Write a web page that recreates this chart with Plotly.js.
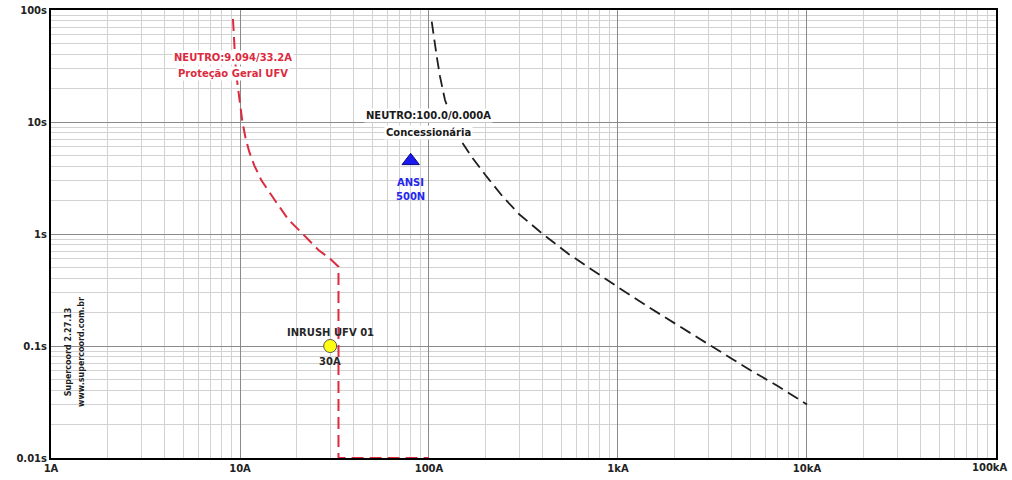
<!DOCTYPE html>
<html>
<head>
<meta charset="utf-8">
<script src="https://cdn.plot.ly/plotly-3.0.1.min.js"></script>
<style>
  html, body { margin: 0; padding: 0; background: #fff; }
  #chart { width: 1012px; height: 480px; }
</style>
</head>
<body>
<div id="chart"></div>
<script>
// Neutral protection curve of the PV plant main breaker (pickup 9.094 A, definite 33.2 A)
const geralI = [9.18, 9.3, 9.45, 9.6, 9.8, 10.0, 10.3, 10.7, 11.2, 11.9, 13, 15.3, 18, 21.5, 26, 30, 33.2, 33.2, 100];
const geralT = [83, 52, 34, 25, 18.5, 13.8, 10, 7.2, 5.4, 4.1, 3.0, 2.0, 1.35, 1.0, 0.72, 0.6, 0.51, 0.01, 0.01];

// Utility (concessionária) neutral curve, pickup 100 A
const concI = [103.4, 105.4, 110, 114.4, 121.5, 143, 168, 202, 246, 300, 400, 550, 750, 1000, 1500, 2000, 3000, 4000, 5000, 7000, 10000];
const concT = [78.6, 62, 38, 25.4, 15.7, 7.4, 4.9, 3.25, 2.15, 1.5, 1.0, 0.66, 0.46, 0.335, 0.215, 0.158, 0.104, 0.077, 0.061, 0.044, 0.030];

// Single-point marks
const ansiI = [80];
const ansiT = [4.5];
const inrushI = [30];
const inrushT = [0.1];

// Axis ticks (the last current label is placed separately so it stays inside the page)
const xTickVals = [1, 10, 100, 1000, 10000, 100000];
const xTickText = ['1A', '10A', '100A', '1kA', '10kA', '100kA'];
const yTickVals = [0.01, 0.1, 1, 10, 100];
const yTickText = ['0.01s', '0.1s', '1s', '10s', '100s'];

function minorVals(d0, d1) {
  const v = [];
  for (let d = d0; d <= d1; d++) {
    for (let k = 2; k <= 9; k++) v.push(k * Math.pow(10, d));
  }
  return v;
}

const FONT = 'DejaVu Sans, Verdana, sans-serif';
const RED = '#dc2a3e';

const traces = [
  {
    x: geralI, y: geralT, mode: 'lines', type: 'scatter',
    line: {color: RED, width: 2, dash: '12px,6px'},
    hoverinfo: 'skip'
  },
  {
    x: concI, y: concT, mode: 'lines', type: 'scatter',
    line: {color: '#1e1e1e', width: 1.8, dash: '12px,6px'},
    hoverinfo: 'skip'
  },
  {
    x: ansiI, y: ansiT, mode: 'markers', type: 'scatter',
    marker: {symbol: 'triangle-up', size: 15, color: '#1a1aee', line: {color: '#0a0a80', width: 1}},
    hoverinfo: 'skip'
  },
  {
    x: inrushI, y: inrushT, mode: 'markers', type: 'scatter',
    marker: {symbol: 'circle', size: 13, color: '#ffff10', line: {color: '#555', width: 1}},
    hoverinfo: 'skip'
  }
];

function label(text, x, y, color, extra) {
  return Object.assign({
    text: '<b>' + text + '</b>', x: Math.log10(x), y: Math.log10(y),
    xref: 'x', yref: 'y', showarrow: false,
    xanchor: 'center', yanchor: 'middle',
    font: {family: FONT, size: 10, color: color},
    bgcolor: '#ffffff', borderpad: 1
  }, extra || {});
}

const lastX = xTickText.length - 1;
const shownXText = xTickText.map((t, i) => (i === lastX ? '' : t));

const annotations = [
  label('NEUTRO:9.094/33.2A', 9.2, 37.3, RED),
  label('Proteção Geral UFV', 9.2, 27.0, RED),
  label('NEUTRO:100.0/0.000A', 100, 11.4, '#1a1a1a'),
  label('Concessionária', 100, 8.1, '#1a1a1a'),
  label('ANSI', ansiI[0], 2.91, '#2626ee', {bgcolor: 'rgba(0,0,0,0)'}),
  label('500N', ansiI[0], 2.14, '#2626ee', {bgcolor: 'rgba(0,0,0,0)'}),
  label('INRUSH UFV 01', inrushI[0], 0.133, '#262626', {bgcolor: 'rgba(0,0,0,0)'}),
  label('30A', inrushI[0], 0.072, '#262626', {bgcolor: 'rgba(0,0,0,0)'}),
  {
    text: '<b>' + xTickText[lastX] + '</b>', xref: 'paper', yref: 'paper',
    x: 1, y: 0, xanchor: 'right', yanchor: 'top', xshift: 14, yshift: -2,
    showarrow: false, font: {family: FONT, size: 10, color: '#222'}
  },
  {
    text: '<b>Supercoord 2.27.13</b>', xref: 'paper', yref: 'paper',
    x: 0.018, y: 0.236, textangle: -90, showarrow: false,
    xanchor: 'center', yanchor: 'middle',
    font: {family: FONT, size: 8, color: '#1e1e1e'}
  },
  {
    text: '<b>www.supercoord.com.br</b>', xref: 'paper', yref: 'paper',
    x: 0.0325, y: 0.236, textangle: -90, showarrow: false,
    xanchor: 'center', yanchor: 'middle',
    font: {family: FONT, size: 8, color: '#1e1e1e'}
  }
];

const axisCommon = {
  type: 'log', layer: 'below traces',
  showline: true, mirror: true, linecolor: '#000', linewidth: 2,
  ticks: '', showgrid: true, gridcolor: '#8a8a8a', gridwidth: 1,
  zeroline: false, fixedrange: true,
  tickfont: {family: FONT, size: 10, color: '#222', weight: 'bold'}
};

const layout = {
  width: 1012, height: 480,
  margin: {l: 51, r: 16, t: 10, b: 22},
  paper_bgcolor: '#fff', plot_bgcolor: '#fff',
  showlegend: false,
  xaxis: Object.assign({}, axisCommon, {
    range: [0, 5.0001], tickmode: 'array', tickvals: xTickVals, ticktext: shownXText,
    minor: {tickmode: 'array', tickvals: minorVals(0, 4), showgrid: true, gridcolor: '#d2d2d2', gridwidth: 1, ticks: ''}
  }),
  yaxis: Object.assign({}, axisCommon, {
    range: [-2, 2], tickmode: 'array', tickvals: yTickVals, ticktext: yTickText,
    minor: {tickmode: 'array', tickvals: minorVals(-2, 1), showgrid: true, gridcolor: '#d2d2d2', gridwidth: 1, ticks: ''}
  }),
  annotations: annotations
};

Plotly.newPlot('chart', traces, layout, {displayModeBar: false, staticPlot: true});
</script>
</body>
</html>
